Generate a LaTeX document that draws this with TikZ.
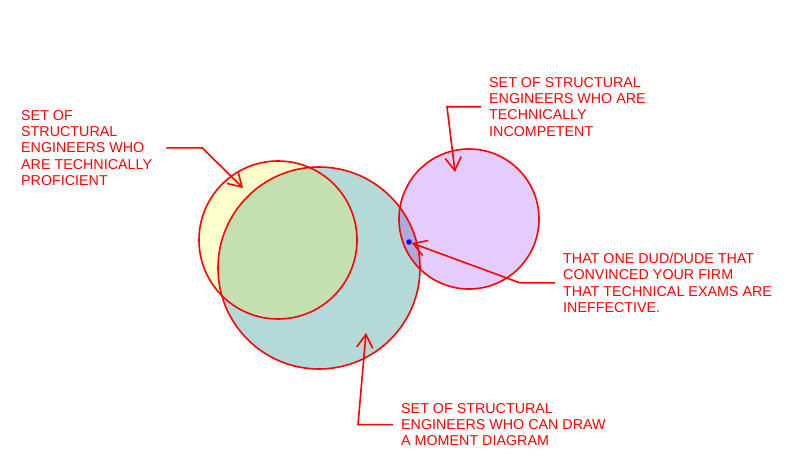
\documentclass[tikz,border=0pt]{standalone}
\usepackage{fontspec}
\setmainfont{Liberation Sans}
\usetikzlibrary{arrows.meta}
\definecolor{setred}{RGB}{255,0,0}
\definecolor{profyellow}{RGB}{255,255,204}
\definecolor{drawteal}{RGB}{179,217,217}
\definecolor{incpurple}{RGB}{229,204,255}
\definecolor{bothgreen}{RGB}{196,223,176}
\definecolor{dudblue}{RGB}{168,172,221}

\begin{document}
\begin{tikzpicture}[x=1pt,y=-1pt,
  ring/.style={draw=setred,line width=1.6pt},
  pointer/.style={draw=setred,line width=1.6pt,-{Straight Barb[length=13pt,width=16pt]}},
  note/.style={anchor=north west,inner sep=0pt,align=left,text=setred,font=\fontsize{14.3}{16.3}\selectfont}]
  \useasboundingbox (0,0) rectangle (800,471);
  % centres of the three sets
  \coordinate (prof) at (278,240);
  \coordinate (moment) at (319,268);
  \coordinate (incomp) at (469,219);
  % fills, overlaps on top
  \fill[profyellow] (prof) circle (79);
  \fill[drawteal] (moment) circle (101);
  \fill[incpurple] (incomp) circle (70);
  \begin{scope}
    \clip (prof) circle (79);
    \fill[bothgreen] (moment) circle (101);
  \end{scope}
  \begin{scope}
    \clip (incomp) circle (70);
    \fill[dudblue] (moment) circle (101);
  \end{scope}
  % outlines
  \draw[ring] (prof) circle (79);
  \draw[ring] (moment) circle (101);
  \draw[ring] (incomp) circle (70);
  \node[circle,fill=blue,inner sep=0pt,minimum size=5.5pt] (dude) at (409,242) {};
  % labels
  \node[note] (lab1) at (21,110) {SET OF\\STRUCTURAL\\ENGINEERS WHO\\ARE TECHNICALLY\\PROFICIENT};
  \node[note] (lab2) at (489,77) {SET OF STRUCTURAL\\ENGINEERS WHO ARE\\TECHNICALLY\\INCOMPETENT};
  \node[note] (lab3) at (563,253) {THAT ONE DUD/DUDE THAT\\CONVINCED YOUR FIRM\\THAT TECHNICAL EXAMS ARE\\INEFFECTIVE.};
  \node[note] (lab4) at (401,403) {SET OF STRUCTURAL\\ENGINEERS WHO CAN DRAW\\A MOMENT DIAGRAM};
  % arrow tips
  \coordinate (tip1) at (243,188);
  \coordinate (tip2) at (455,172);
  \coordinate (tip4) at (366,333);
  \draw[pointer] ([xshift=14pt]lab1.east) -- ++(36,0) -- (tip1);
  \draw[pointer] ([xshift=-8pt]lab2.west) -- ++(-34,0) -- (tip2);
  \draw[pointer] ([xshift=-8pt]lab3.west) -- ++(-35,0) -- (dude);
  \draw[pointer] ([xshift=-8pt]lab4.west) -- ++(-35,0) -- (tip4);
\end{tikzpicture}
\end{document}
